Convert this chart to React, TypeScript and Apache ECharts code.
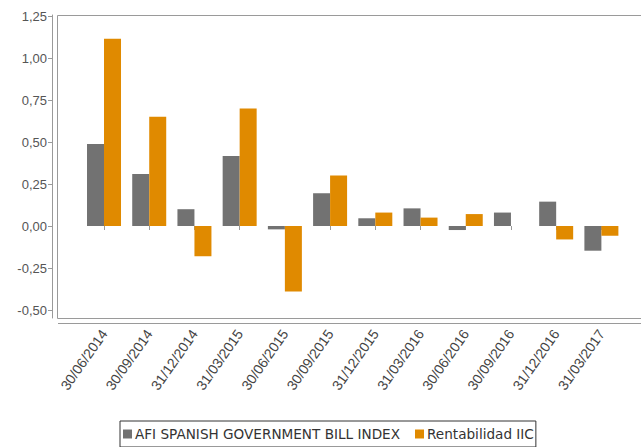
import React, { useEffect, useRef } from "react";
import * as echarts from "echarts";

const categories = [
  "30/06/2014", "30/09/2014", "31/12/2014", "31/03/2015", "30/06/2015", "30/09/2015",
  "31/12/2015", "31/03/2016", "30/06/2016", "30/09/2016", "31/12/2016", "31/03/2017",
];
const afiIndex = [0.488, 0.31, 0.1, 0.417, -0.02, 0.195, 0.046, 0.105, -0.024, 0.08, 0.145, -0.147];
const rentabilidad = [1.115, 0.65, -0.18, 0.7, -0.39, 0.3, 0.08, 0.05, 0.071, 0, -0.08, -0.058];
const yTicks = [-0.5, -0.25, 0, 0.25, 0.5, 0.75, 1, 1.25];
const seriesNames = ["AFI SPANISH GOVERNMENT BILL INDEX", "Rentabilidad IIC"];

const Y_MIN = -0.5476;
const Y_MAX = 1.256;

export default function App() {
  const ref = useRef<HTMLDivElement>(null);
  useEffect(() => {
    if (!ref.current) return;
    const chart = echarts.init(ref.current, null, { renderer: "svg" });
    const font = "'Liberation Sans', Arial, sans-serif";
    chart.setOption({
      animation: false,
      backgroundColor: "#ffffff",
      graphic: [
        {
          type: "polyline",
          silent: true,
          shape: { points: [[650, 15.5], [57.5, 15.5], [57.5, 318.5], [650, 318.5]] },
          style: { stroke: "#9a9a9a", lineWidth: 1, fill: null },
        },
        {
          type: "line",
          silent: true,
          shape: { x1: 58, y1: 323.5, x2: 650, y2: 323.5 },
          style: { stroke: "#9a9a9a", lineWidth: 1 },
        },
      ],
      legend: {
        data: seriesNames,
        left: 120,
        top: 421,
        orient: "horizontal",
        icon: "rect",
        itemWidth: 9,
        itemHeight: 9,
        itemGap: 15,
        padding: [6, 2, 6, 3],
        borderColor: "#333333",
        borderWidth: 1,
        textStyle: { fontFamily: "'DejaVu Sans', Verdana, sans-serif", fontSize: 13.6, color: "#333333", padding: [0, 0, 0, -2] },
      },
      grid: [
        { left: 57, right: 0, top: 15, bottom: 129 },
        { left: 81.4, right: 17, top: 15, bottom: 129 },
      ],
      xAxis: [
        {
          gridIndex: 0, type: "category", data: [""], show: false,
        },
        {
          gridIndex: 1, type: "category", data: categories, offset: 5,
          axisLine: { show: false },
          axisTick: { show: true, alignWithLabel: true, length: 4, lineStyle: { color: "#9a9a9a" } },
          axisLabel: { rotate: 55, margin: 8, fontSize: 14, fontFamily: font, color: "#444444", interval: 0 },
          splitLine: { show: false },
        },
      ],
      yAxis: [
        {
          gridIndex: 0, type: "value", min: Y_MIN, max: Y_MAX, offset: 5,
          axisLine: { show: true, lineStyle: { color: "#9a9a9a", width: 1 } },
          axisTick: { show: true, length: 4, customValues: yTicks, lineStyle: { color: "#9a9a9a" } },
          axisLabel: {
            customValues: yTicks, margin: 5, fontSize: 13, fontFamily: font, color: "#555555",
            formatter: (v: number) => v.toFixed(2).replace(".", ","),
          },
          splitLine: { show: false },
        },
        { gridIndex: 1, type: "value", min: Y_MIN, max: Y_MAX, show: false, splitLine: { show: false } },
      ],
      series: [
        {
          name: seriesNames[0], type: "bar", xAxisIndex: 1, yAxisIndex: 1,
          data: afiIndex, barWidth: 17, barGap: "0%", itemStyle: { color: "#727272" },
        },
        {
          name: seriesNames[1], type: "bar", xAxisIndex: 1, yAxisIndex: 1,
          data: rentabilidad, barWidth: 17, barGap: "0%", itemStyle: { color: "#e08a00" },
        },
      ],
    });
    return () => chart.dispose();
  }, []);
  return <div ref={ref} style={{ width: 641, height: 447, position: "fixed", left: 0, top: 0 }} />;
}
